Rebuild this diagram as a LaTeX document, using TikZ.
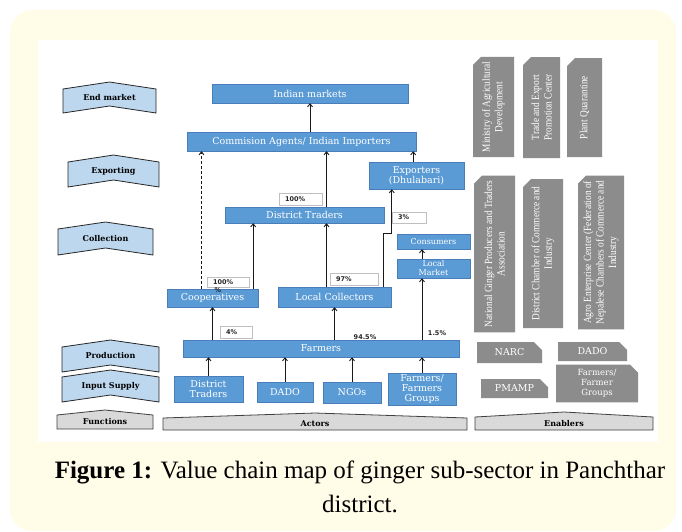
\documentclass[tikz,border=0pt]{standalone}
\usepackage{fontspec}
\setmainfont{DejaVu Serif}
\newfontfamily\capfont{Liberation Serif}
\newfontfamily\narrowfont[FakeStretch=0.85]{Liberation Serif}
\newfontfamily\pctfont{DejaVu Sans}
\usetikzlibrary{arrows.meta,positioning,shapes.misc}
\definecolor{cream}{HTML}{FFFCE8}
\definecolor{boxblue}{HTML}{5B9BD5}
\definecolor{boxedge}{HTML}{4A7EBB}
\definecolor{chevblue}{HTML}{BDD7EE}
\definecolor{chevgray}{HTML}{D9D9D9}
\definecolor{enabgray}{HTML}{8C8C8C}
\begin{document}
\begin{tikzpicture}[x=1pt,y=-1pt,>={Straight Barb[length=3pt,width=5pt]},
font=\fontsize{9.5}{10}\selectfont,
actor/.style={draw=boxedge,fill=boxblue,text=white,align=center,inner sep=1pt},
pct/.style={draw=black!25,fill=white,font=\pctfont\bfseries\fontsize{6.5}{7}\selectfont,text=black!85,align=left,inner xsep=6pt,inner ysep=0pt},
pcttxt/.style={font=\pctfont\bfseries\fontsize{6.5}{7}\selectfont,text=black!85,inner sep=0pt},
chev/.style={draw=black!85,fill=chevblue,line width=.8pt},
chevg/.style={draw=black!75,fill=chevgray,line width=.8pt},
chevtxt/.style={font=\bfseries\fontsize{8}{9}\selectfont},
enab/.style={chamfered rectangle,chamfered rectangle sep=4pt,chamfered rectangle corners=north east,fill=enabgray,text=white,align=center,inner sep=1pt},
vtxt/.style={font=\narrowfont\fontsize{11}{12.5}\selectfont,rotate=90},
arr/.style={->,line width=.9pt,draw=black!90},
dsh/.style={arr,densely dashed}]
\useasboundingbox (0,0) rectangle (682,531);
\fill[cream,rounded corners=22pt] (10,10) rectangle (676,531);
\fill[white] (38,40) rectangle (658,442);
\foreach \n/\xa/\xb/\yt/\yb/\t in {fend/63/156/89/113/End market,fexp/68/159/162/187/Exporting,fcol/58/153/229/255/Collection,fpro/62/159/347/372/Production,finp/62/159/377/402/Input Supply}{
  \draw[chev] (\xa,\yt) -- ({(\xa+\xb)/2},\yt-7) -- (\xb,\yt) -- (\xb,\yb) -- ({(\xa+\xb)/2},\yb-7) -- (\xa,\yb) -- cycle;
  \node[chevtxt] (\n) at ({(\xa+\xb)/2},{(\yt+\yb)/2-3.5}) {\t};
}
\foreach \n/\xa/\xb/\yt/\yb/\t in {ffun/57/153/415/429/Functions,fact/163/467/418/430/Actors,fenb/475/653/417/430/Enablers}{
  \draw[chevg] (\xa,\yt) -- ({(\xa+\xb)/2},\yt-5) -- (\xb,\yt) -- (\xb,\yb) -- (\xa,\yb) -- cycle;
  \node[chevtxt] (\n) at ({(\xa+\xb)/2},{(\yt+\yb)/2}) {\t};
}
\node[actor,minimum width=196,minimum height=19] (im) at (310,93.5) {Indian markets};
\node[actor,minimum width=229,minimum height=19] (ca) at (301.5,141.5) {Commision Agents/ Indian Importers};
\node[actor,minimum width=95,minimum height=27] (ex) at (416.5,175.5) {Exporters\\(Dhulabari)};
\node[actor,minimum width=159,minimum height=16] (dt) at (304.5,215) {District Traders};
\node[actor,minimum width=73,minimum height=15,font=\fontsize{8}{9}\selectfont] (cs) at (433.5,241.5) {Consumers};
\node[actor,minimum width=73,minimum height=19,font=\fontsize{8}{9}\selectfont] (lm) at (433.5,268.5) {Local\\Market};
\node[actor,minimum width=91,minimum height=18] (co) at (212.5,298) {Cooperatives};
\node[actor,minimum width=113,minimum height=20] (lc) at (334.5,297) {Local Collectors};
\node[actor,minimum width=276,minimum height=17] (fa) at (321,348.5) {Farmers};
\node[actor,minimum width=69,minimum height=26] (idt) at (208.5,389) {District\\Traders};
\node[actor,minimum width=56,minimum height=20] (ida) at (285,392) {DADO};
\node[actor,minimum width=58,minimum height=21] (ing) at (352,392.5) {NGOs};
\node[actor,minimum width=68,minimum height=32] (ifg) at (422,389) {Farmers/\\Farmers\\Groups};
\node[pct,text width=31pt,minimum height=12pt] (p100a) at (300.5,199) {100\%};
\node[pct,text width=22pt,minimum height=11pt] (p3) at (409,217.5) {3\%};
\node[pct,text width=30pt,minimum height=10pt] (p100b) at (228,282) {100\%};
\node[pcttxt] (p100c) at (218,290) {\%};
\node[pct,text width=36pt,minimum height=12pt] (p97) at (354,279) {97\%};
\node[pct,text width=20pt,minimum height=12pt] (p4) at (236,332) {4\%};
\node[pcttxt] (p945) at (365,337) {94.5\%};
\node[pcttxt] (p15) at (437,333) {1.5\%};
\coordinate (c1) at ([xshift=-5pt]co.north east);
\coordinate (c2) at ([xshift=-11pt]co.north);
\coordinate (c3) at ([xshift=-8pt]lc.north);
\coordinate (c4) at ([xshift=-3pt]ca.south east);
\coordinate (c5) at ([xshift=-8pt]lc.north east);
\coordinate (c6) at ([xshift=23pt]ex.south west);
\draw[arr] (ca.north -| im.south) -- (im.south);
\draw[arr] (c4 |- ex.north) -- (c4);
\draw[arr] (c3 |- dt.north) -- (c3 |- ca.south);
\draw[arr] (c3) -- (c3 |- dt.south);
\draw[arr] (c1) -- (c1 |- dt.south);
\draw[dsh] (c2) -- (c2 |- ca.south);
\draw[arr] (c5) -- (c5 |- cs.north) -- (c6 |- cs.north) -- (c6);
\draw[arr] (lm.north -| ifg.north) -- (cs.south -| ifg.north);
\draw[arr] (fa.north -| ifg.north) -- (lm.south -| ifg.north);
\draw[arr] (fa.north -| co.south) -- (co.south);
\draw[arr] (fa.north -| lc.south) -- (lc.south);
\foreach \n in {idt,ida,ing,ifg} \draw[arr] (\n.north) -- (fa.south -| \n.north);
\node[enab,vtxt,minimum width=100,minimum height=41] (mad) at (493.5,107) {Ministry of Agricultural\\Development};
\node[enab,vtxt,minimum width=101,minimum height=37] (tep) at (541.5,107.5) {Trade and Export\\Promotion Center};
\node[enab,vtxt,minimum width=99,minimum height=35] (pq) at (584.5,107.5) {Plant Quarantine};
\node[enab,vtxt,minimum width=148,minimum height=41] (ngp) at (494.5,254) {National Ginger Producers and Traders\\Association};
\node[enab,vtxt,minimum width=149,minimum height=40] (dcc) at (543,253.5) {District Chamber of Commerce and\\Industry};
\node[enab,vtxt,minimum width=149,minimum height=46] (aec) at (601,252.5) {Agro Enterprise Center (Federation of\\Nepalese Chambers of Commerce and\\Industry};
\node[enab,minimum width=65,minimum height=21] (narc) at (509.5,352.5) {NARC};
\node[enab,minimum width=69,minimum height=19] (dado) at (592.5,351.5) {DADO};
\node[enab,minimum width=67,minimum height=19] (pmamp) at (514.5,388.5) {PMAMP};
\node[enab,minimum width=82,minimum height=33,font=\fontsize{8.5}{10}\selectfont] (ffg) at (597,383.5) {Farmers/\\Farmer\\Groups};
\node[font=\capfont\fontsize{25}{34}\selectfont,align=center] (cap) at (360,487) {\textbf{Figure 1:} Value chain map of ginger sub-sector in Panchthar\\district.};
\end{tikzpicture}
\end{document}
